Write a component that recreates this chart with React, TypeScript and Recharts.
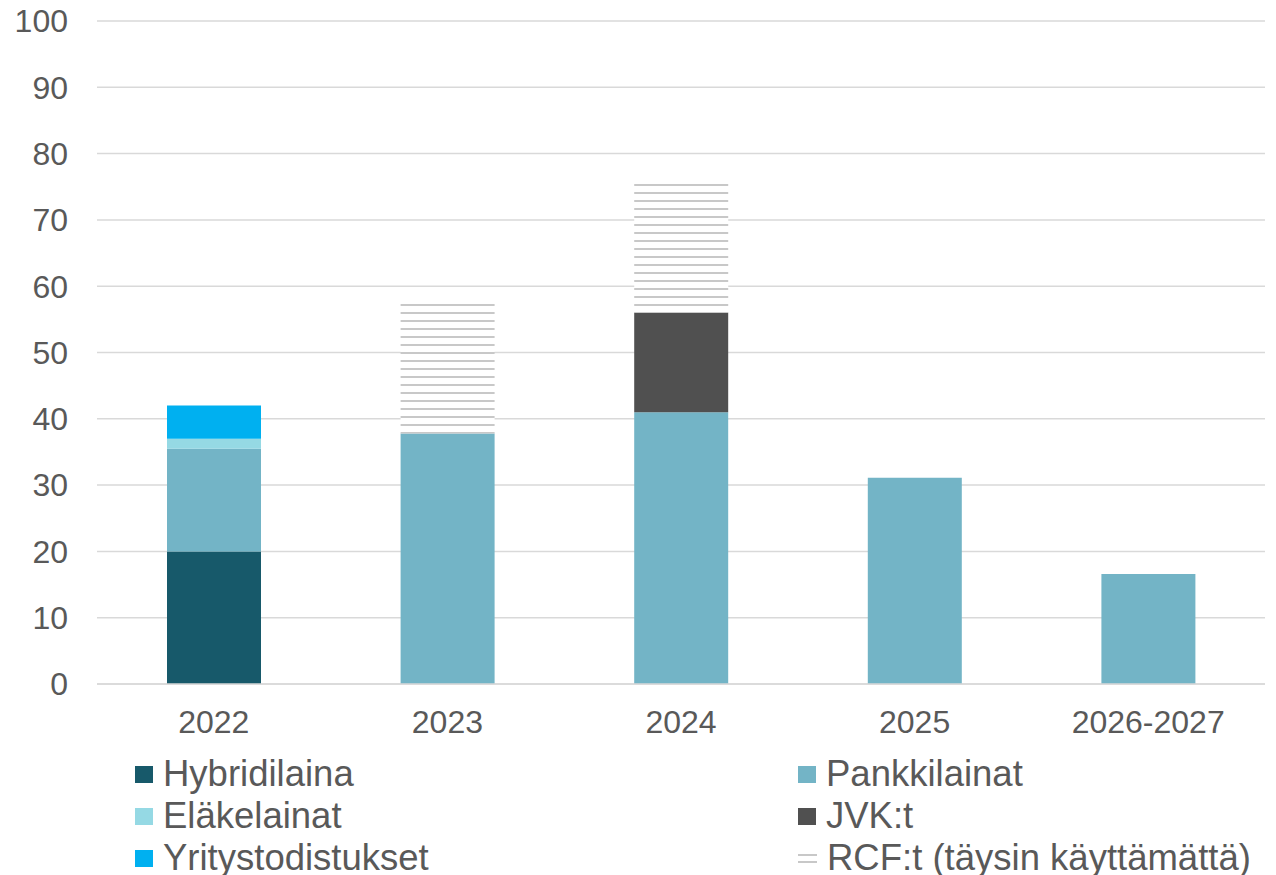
import { BarChart, Bar, XAxis, YAxis, CartesianGrid, Legend } from "recharts";

const categories = ["2022", "2023", "2024", "2025", "2026-2027"];
const hybridilaina = [20, 0, 0, 0, 0];
const pankkilainat = [15.5, 37.8, 41, 31.1, 16.6];
const elakelainat = [1.5, 0, 0, 0, 0];
const yritystodistukset = [5, 0, 0, 0, 0];
const jvk = [0, 0, 15, 0, 0];
const rcf = [0, 20, 20, 0, 0];
const yTicks = [0, 10, 20, 30, 40, 50, 60, 70, 80, 90, 100];

const data = categories.map((name, i) => ({
  name,
  hybridilaina: hybridilaina[i],
  pankkilainat: pankkilainat[i],
  elakelainat: elakelainat[i],
  yritystodistukset: yritystodistukset[i],
  jvk: jvk[i],
  rcf: rcf[i],
}));

const FONT = "'Liberation Sans', Arial, sans-serif";
const TEXT = "#595959";

// legend: two columns, three rows (same order as in the original)
const legendItems = [
  { label: "Hybridilaina", color: "#17596a", col: 0, row: 0 },
  { label: "Pankkilainat", color: "#73b4c6", col: 1, row: 0 },
  { label: "Eläkelainat", color: "#95d9e4", col: 0, row: 1 },
  { label: "JVK:t", color: "#505050", col: 1, row: 1 },
  { label: "Yritystodistukset", color: "#00b0f0", col: 0, row: 2 },
  { label: "RCF:t (täysin käyttämättä)", color: "pattern", col: 1, row: 2 },
];

const renderLegend = () => (
  <div style={{ position: "relative", width: 1276, height: 131, fontFamily: FONT }}>
    {legendItems.map((it) => (
      <div
        key={it.label}
        style={{
          position: "absolute",
          left: it.col === 0 ? 135 : 798,
          top: 9 + it.row * 42,
          height: 42,
          display: "flex",
          alignItems: "center",
          whiteSpace: "nowrap",
        }}
      >
        {it.color === "pattern" ? (
          <svg width={19} height={18} style={{ marginRight: 10 }}>
            <line x1={0} x2={19} y1={6} y2={6} stroke="#c8c8c8" strokeWidth={2} />
            <line x1={0} x2={19} y1={13} y2={13} stroke="#c8c8c8" strokeWidth={2} />
          </svg>
        ) : (
          <div style={{ width: 18, height: 17, background: it.color, marginRight: 10 }} />
        )}
        <span style={{ fontSize: 36.5, color: TEXT, lineHeight: "40px" }}>{it.label}</span>
      </div>
    ))}
  </div>
);

export default function App() {
  return (
    <div style={{ position: "absolute", left: 0, top: 0, background: "#fff" }}>
      <BarChart
        width={1276}
        height={875}
        data={data}
        margin={{ top: 21, right: 11, left: 0, bottom: 0 }}
        barSize={94}
      >
        <defs>
          <pattern id="rcfLines" patternUnits="userSpaceOnUse" width={8} height={8}>
            <rect width={8} height={8} fill="#ffffff" />
            <rect y={0} width={8} height={2} fill="#c8c8c8" />
          </pattern>
        </defs>
        <CartesianGrid vertical={false} stroke="#d9d9d9" strokeWidth={1.5} />
        <XAxis
          dataKey="name"
          height={60}
          tickLine={false}
          tickSize={0}
          tickMargin={26}
          axisLine={{ stroke: "#d9d9d9", strokeWidth: 1.5 }}
          tick={{ fontSize: 32, fill: TEXT, fontFamily: FONT }}
        />
        <YAxis
          width={97}
          domain={[0, 100]}
          ticks={yTicks}
          axisLine={false}
          tickLine={false}
          tickSize={0}
          tickMargin={29}
          tick={{ fontSize: 32, fill: TEXT, fontFamily: FONT }}
        />
        <Legend
          content={renderLegend}
          wrapperStyle={{ left: 0, top: 744, bottom: "auto", width: 1276, height: 131 }}
        />
        <Bar dataKey="hybridilaina" stackId="a" fill="#17596a" isAnimationActive={false} />
        <Bar dataKey="pankkilainat" stackId="a" fill="#73b4c6" isAnimationActive={false} />
        <Bar dataKey="elakelainat" stackId="a" fill="#95d9e4" isAnimationActive={false} />
        <Bar dataKey="yritystodistukset" stackId="a" fill="#00b0f0" isAnimationActive={false} />
        <Bar dataKey="jvk" stackId="a" fill="#505050" isAnimationActive={false} />
        <Bar dataKey="rcf" stackId="a" fill="url(#rcfLines)" isAnimationActive={false} />
      </BarChart>
    </div>
  );
}
